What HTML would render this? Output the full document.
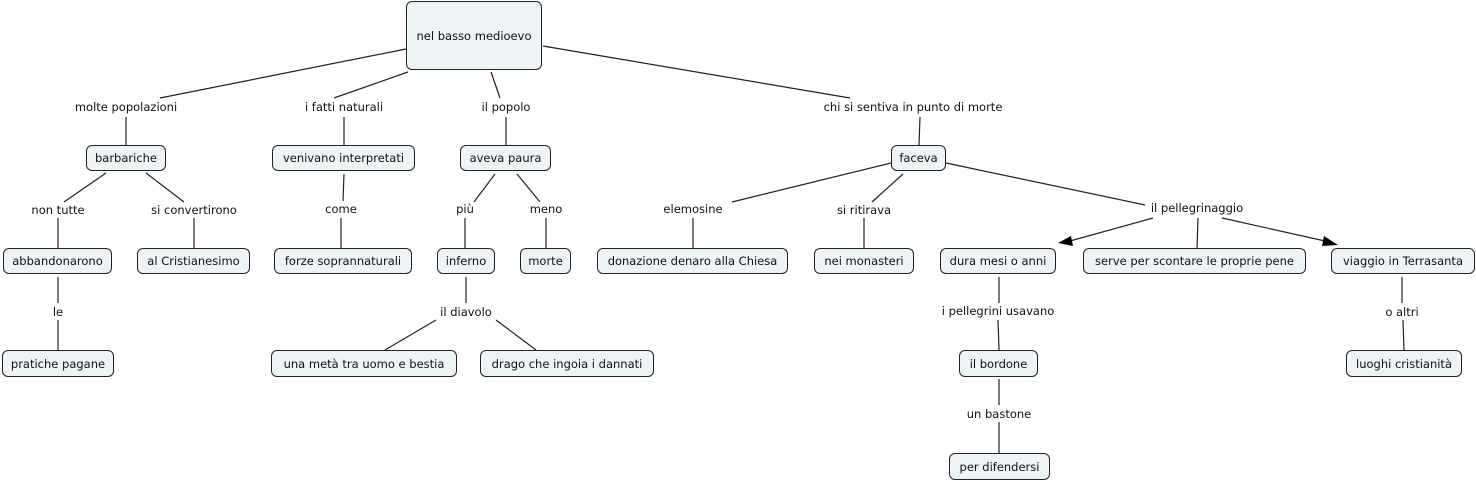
<!DOCTYPE html>
<html><head><meta charset="utf-8"><style>
body{margin:0;width:1476px;height:483px;background:#fff;position:relative;overflow:hidden;font-family:"DejaVu Sans","Liberation Sans",sans-serif;font-size:11.5px;color:#111}
.b{position:absolute;box-sizing:border-box;border:1px solid #222;border-radius:6px;background:#eef3f5;display:flex;align-items:center;justify-content:center;white-space:nowrap}
.l{position:absolute;transform:translate(-50%,-50%);white-space:nowrap;background:#fff;padding:0 1px}
svg{position:absolute;left:0;top:0}
</style></head><body>
<svg width="1476" height="483" stroke="#222" stroke-width="1.2" fill="none">
<line x1="406" y1="49" x2="160" y2="98"/>
<line x1="408" y1="72" x2="334" y2="98"/>
<line x1="491" y1="72" x2="500" y2="98"/>
<line x1="543" y1="46" x2="850" y2="98"/>
<line x1="126" y1="117" x2="126" y2="145"/>
<line x1="344" y1="117" x2="344" y2="145"/>
<line x1="506" y1="117" x2="506" y2="145"/>
<line x1="920" y1="117" x2="919" y2="145"/>
<line x1="106" y1="173" x2="64" y2="202"/>
<line x1="146" y1="173" x2="184" y2="202"/>
<line x1="344" y1="174" x2="343" y2="201"/>
<line x1="495" y1="174" x2="474" y2="202"/>
<line x1="517" y1="174" x2="540" y2="202"/>
<line x1="891" y1="163" x2="732" y2="202"/>
<line x1="903" y1="174" x2="872" y2="202"/>
<line x1="946" y1="163" x2="1145" y2="205"/>
<line x1="58" y1="218" x2="58" y2="248"/>
<line x1="194" y1="218" x2="194" y2="248"/>
<line x1="341" y1="218" x2="341" y2="248"/>
<line x1="465" y1="218" x2="465" y2="248"/>
<line x1="546" y1="218" x2="546" y2="248"/>
<line x1="693" y1="218" x2="693" y2="248"/>
<line x1="864" y1="218" x2="864" y2="248"/>
<line x1="1153" y1="218" x2="1070" y2="241"/>
<line x1="1198" y1="218" x2="1197" y2="248"/>
<line x1="1222" y1="218" x2="1325" y2="241"/>
<line x1="58" y1="277" x2="58" y2="303"/>
<line x1="466" y1="277" x2="466" y2="303"/>
<line x1="999" y1="277" x2="999" y2="303"/>
<line x1="1402" y1="277" x2="1402" y2="303"/>
<line x1="58" y1="320" x2="58" y2="350"/>
<line x1="436" y1="320" x2="385" y2="350"/>
<line x1="496" y1="320" x2="536" y2="350"/>
<line x1="998" y1="320" x2="999" y2="350"/>
<line x1="1403" y1="320" x2="1404" y2="350"/>
<line x1="999" y1="379" x2="999" y2="405"/>
<line x1="999" y1="422" x2="999" y2="453"/>
<polygon points="1058,243 1071,236 1073,246" fill="#000" stroke="none"/>
<polygon points="1338,245 1324,236 1322,246" fill="#000" stroke="none"/>
</svg>
<div class="b" style="left:406px;top:1px;width:136px;height:69px">nel basso medioevo</div>
<div class="b" style="left:86px;top:145px;width:80px;height:26px">barbariche</div>
<div class="b" style="left:272px;top:145px;width:143px;height:26px">venivano interpretati</div>
<div class="b" style="left:460px;top:145px;width:91px;height:26px">aveva paura</div>
<div class="b" style="left:891px;top:145px;width:55px;height:26px">faceva</div>
<div class="b" style="left:3px;top:248px;width:109px;height:26px">abbandonarono</div>
<div class="b" style="left:137px;top:248px;width:113px;height:26px">al Cristianesimo</div>
<div class="b" style="left:274px;top:248px;width:138px;height:26px">forze soprannaturali</div>
<div class="b" style="left:437px;top:248px;width:58px;height:26px">inferno</div>
<div class="b" style="left:520px;top:248px;width:51px;height:26px">morte</div>
<div class="b" style="left:597px;top:248px;width:191px;height:26px">donazione denaro alla Chiesa</div>
<div class="b" style="left:814px;top:248px;width:100px;height:26px">nei monasteri</div>
<div class="b" style="left:940px;top:248px;width:116px;height:26px">dura mesi o anni</div>
<div class="b" style="left:1083px;top:248px;width:223px;height:26px">serve per scontare le proprie pene</div>
<div class="b" style="left:1331px;top:248px;width:144px;height:26px">viaggio in Terrasanta</div>
<div class="b" style="left:2px;top:350px;width:112px;height:27px">pratiche pagane</div>
<div class="b" style="left:271px;top:350px;width:186px;height:27px">una metà tra uomo e bestia</div>
<div class="b" style="left:480px;top:350px;width:174px;height:27px">drago che ingoia i dannati</div>
<div class="b" style="left:959px;top:350px;width:79px;height:27px">il bordone</div>
<div class="b" style="left:1346px;top:350px;width:116px;height:27px">luoghi cristianità</div>
<div class="b" style="left:949px;top:453px;width:101px;height:27px">per difendersi</div>
<div class="l" style="left:126px;top:107px">molte popolazioni</div>
<div class="l" style="left:344px;top:107px">i fatti naturali</div>
<div class="l" style="left:506px;top:107px">il popolo</div>
<div class="l" style="left:913px;top:107px">chi si sentiva in punto di morte</div>
<div class="l" style="left:58px;top:210px">non tutte</div>
<div class="l" style="left:194px;top:210px">si convertirono</div>
<div class="l" style="left:341px;top:209px">come</div>
<div class="l" style="left:465px;top:209px">più</div>
<div class="l" style="left:546px;top:209px">meno</div>
<div class="l" style="left:693px;top:209px">elemosine</div>
<div class="l" style="left:864px;top:210px">si ritirava</div>
<div class="l" style="left:1197px;top:208px">il pellegrinaggio</div>
<div class="l" style="left:58px;top:312px">le</div>
<div class="l" style="left:466px;top:312px">il diavolo</div>
<div class="l" style="left:998px;top:311px">i pellegrini usavano</div>
<div class="l" style="left:1402px;top:312px">o altri</div>
<div class="l" style="left:999px;top:414px">un bastone</div>
</body></html>
